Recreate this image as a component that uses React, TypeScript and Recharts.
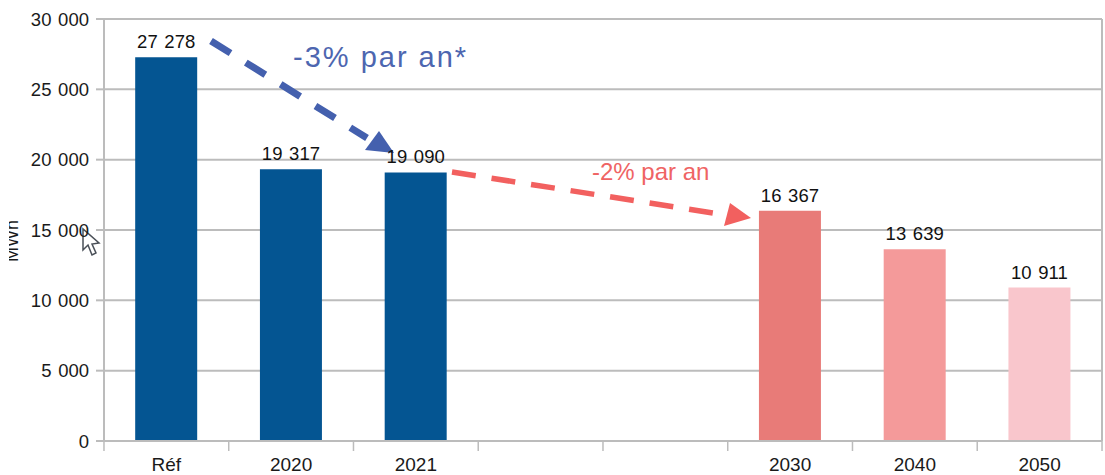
import React from "react";
import { BarChart, Bar, Cell, XAxis, YAxis, CartesianGrid, LabelList } from "recharts";

const categories = ["Réf", "2020", "2021", "", "", "2030", "2040", "2050"];
const values = [27278, 19317, 19090, null, null, 16367, 13639, 10911];
const barColors = ["#045592", "#045592", "#045592", "#ffffff", "#ffffff", "#e87b78", "#f49a9a", "#f9c6cc"];
const yTicks = [0, 5000, 10000, 15000, 20000, 25000, 30000];

const data = categories.map((cat, i) => ({ cat, value: values[i] }));

const FONT = '"Liberation Sans", Arial, sans-serif';
const AXIS_COLOR = "#bcbcbc";
const TEXT_COLOR = "#1a1a1a";

const formatNumber = (v: number | string | null | undefined) => {
  if (v === null || v === undefined) return "";
  return String(v).replace(/\B(?=(\d{3})+$)/g, "\u00a0\u200a");
};

// ticks sit on the band edges, labels in the middle of the band
const XTick = (props: any) => {
  const { x, payload, index } = props;
  const half = 62.4;
  return (
    <g>
      <line x1={x - half} x2={x - half} y1={441} y2={451} stroke={AXIS_COLOR} strokeWidth={1.5} />
      {index === categories.length - 1 && (
        <line x1={x + half} x2={x + half} y1={441} y2={451} stroke={AXIS_COLOR} strokeWidth={1.5} />
      )}
      <text x={x} y={471} textAnchor="middle" fontSize={19} fontFamily={FONT} fill={TEXT_COLOR}>
        {payload.value}
      </text>
    </g>
  );
};

// hand-drawn annotations on top of the chart
const Annotations = () => (
  <g fontFamily={FONT}>
    <line x1={211} y1={41} x2={367} y2={138} stroke="#4460ae" strokeWidth={7} strokeDasharray="23 18" />
    <polygon points="379,131 394,153 365,150" fill="#4460ae" />
    <text x={293} y={67} fontSize={29} letterSpacing={2} fill="#4d66b0">
      -3% par an*
    </text>
    <line x1={452} y1={172} x2={713} y2={213} stroke="#f2605f" strokeWidth={5.5} strokeDasharray="24 16" />
    <polygon points="730,203 751,218 724,226" fill="#f2605f" />
    <text x={592} y={180} fontSize={24} fill="#ef6464">
      -2% par an
    </text>
    <defs>
      <clipPath id="unit-clip">
        <rect x={9} y={200} width={20} height={80} />
      </clipPath>
    </defs>
    <g clipPath="url(#unit-clip)">
      <text transform="translate(18,241) rotate(-90)" textAnchor="middle" fontSize={18} fill={TEXT_COLOR}>
        MWh
      </text>
    </g>
    <polygon
      points="83,229 83,250 88,245 92,255 96,253 92,244 99,243"
      fill="#ffffff"
      stroke="#4a5058"
      strokeWidth={1.5}
    />
  </g>
);

export default function App() {
  return (
    <div style={{ position: "absolute", left: 0, top: 0, width: 1105, height: 475, overflow: "hidden", background: "#fff" }}>
      <BarChart
        width={1105}
        height={475}
        data={data}
        margin={{ top: 19, right: 3, bottom: 0, left: 0 }}
        barCategoryGap="25%"
      >
        <CartesianGrid vertical horizontal verticalPoints={[1102]} stroke={AXIS_COLOR} strokeWidth={2} />
        <XAxis
          dataKey="cat"
          interval={0}
          tickLine={false}
          stroke={AXIS_COLOR}
          strokeWidth={2}
          height={34}
          tick={<XTick />}
        />
        <YAxis
          width={104}
          domain={[0, 30000]}
          ticks={yTicks}
          interval={0}
          stroke={AXIS_COLOR}
          strokeWidth={2}
          tickSize={8}
          tickMargin={7}
          tickFormatter={formatNumber}
          tick={{ fill: TEXT_COLOR, fontSize: 18.5, fontFamily: FONT }}
        />
        <Bar dataKey="value" isAnimationActive={false}>
          {data.map((d, i) => (
            <Cell key={i} fill={barColors[i]} />
          ))}
          <LabelList
            dataKey="value"
            position="top"
            offset={9}
            formatter={formatNumber}
            fill="#111111"
            fontSize={18.5}
            fontFamily={FONT}
          />
        </Bar>
        <Annotations />
      </BarChart>
    </div>
  );
}
